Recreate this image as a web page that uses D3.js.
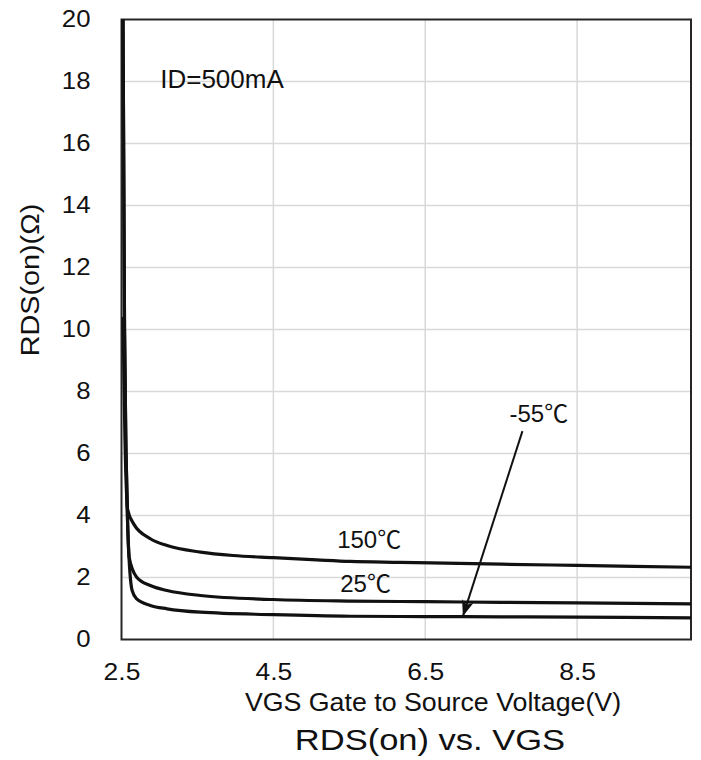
<!DOCTYPE html>
<html lang="en">
<head>
<meta charset="utf-8">
<title>RDS(on) vs. VGS</title>
<script src="https://d3js.org/d3.v7.min.js"></script>
<style>
	body, html { margin: 0; padding: 0; background: #fff; }
	text { font-family: "Liberation Sans", Arial, sans-serif; fill: #111; }
	.deg { font-family: "Noto Sans CJK SC", "Liberation Sans", sans-serif; }
</style>
</head>
<body>
<div id="chart"></div>
<script>
// curves (VGS in V, RDS(on) in ohm)
var vgs150 = [2.52, 2.545, 2.565, 2.58, 2.66, 2.88, 3.1, 3.54, 3.97, 4.5, 5.07, 5.51, 6.17, 7.5, 8.5, 10]
var rds150 = [10.4, 6.5, 4.8, 4.2, 3.73, 3.25, 3.03, 2.82, 2.71, 2.64, 2.57, 2.52, 2.49, 2.43, 2.39, 2.33]

var vgs25 = [2.52, 2.54, 2.56, 2.58, 2.6, 2.7, 2.88, 3.1, 3.54, 4.5, 5.51, 6.5, 7.5, 8.5, 10]
var rds25 = [20, 10, 6, 3.8, 2.66, 2.01, 1.74, 1.58, 1.42, 1.29, 1.24, 1.22, 1.2, 1.18, 1.15]

var vgs55 = [2.52, 2.54, 2.56, 2.58, 2.6, 2.64, 2.7, 2.88, 3.1, 3.54, 4.5, 5.51, 6.5, 7.5, 8.5, 10]
var rds55 = [20, 10, 6, 3.8, 2.6, 1.58, 1.31, 1.1, 0.99, 0.88, 0.8, 0.75, 0.74, 0.73, 0.72, 0.7]

var xTicks = [2.5, 4.5, 6.5, 8.5]
var yTicks = [0, 2, 4, 6, 8, 10, 12, 14, 16, 18, 20]

var curveLabels = [
	{num: "150", v: 5.34, r: 2.94},
	{num: "25", v: 5.38, r: 1.53},
	{num: "-55", v: 7.61, r: 7.01}
]
var arrow55 = {from: [7.78, 6.72], to: [7.0, 0.78]}

var W = 701, H = 760
var margin = {top: 19.5, right: 10, bottom: 120.5, left: 121.5}
var w = W - margin.left - margin.right
var h = H - margin.top - margin.bottom

var svg = d3.select("#chart").append("svg")
	.attr("width", W)
	.attr("height", H)

// text in the picture is wider than the font: stretch it along its run
var stretch = function (sel, k) {
	sel.each(function () {
		var len = this.getComputedTextLength()
		d3.select(this).attr("textLength", len * k).attr("lengthAdjust", "spacingAndGlyphs")
	})
}

var xScale = d3.scaleLinear().domain([2.5, 10]).range([0, w])
var yScale = d3.scaleLinear().domain([0, 20]).range([h, 0])

var g = svg.append("g")
	.attr("transform", "translate(" + margin.left + "," + margin.top + ")")

// grid
g.append("g").selectAll("line.hgrid")
	.data(yTicks.slice(1, -1))
	.enter().append("line")
	.attr("x1", 0).attr("x2", w)
	.attr("y1", d => yScale(d)).attr("y2", d => yScale(d))
	.attr("stroke", "#d9d9d9").attr("stroke-width", 1.5)

g.append("g").selectAll("line.vgrid")
	.data(xTicks.slice(1))
	.enter().append("line")
	.attr("y1", 0).attr("y2", h)
	.attr("x1", d => xScale(d)).attr("x2", d => xScale(d))
	.attr("stroke", "#d9d9d9").attr("stroke-width", 1.5)

// frame
g.append("rect")
	.attr("width", w).attr("height", h)
	.attr("fill", "none")
	.attr("stroke", "#262626").attr("stroke-width", 2)

// axes
var xAxis = g.append("g")
	.attr("transform", "translate(0," + h + ")")
	.call(d3.axisBottom(xScale).tickValues(xTicks).tickSize(0).tickPadding(24).tickFormat(d3.format(".1f")))
xAxis.select(".domain").remove()
xAxis.selectAll("text").attr("font-size", 23).attr("font-family", null).call(stretch, 1.15)

var yAxis = g.append("g")
	.call(d3.axisLeft(yScale).tickValues(yTicks).tickSize(0).tickPadding(31))
yAxis.select(".domain").remove()
yAxis.selectAll("text").attr("font-size", 23).attr("font-family", null).call(stretch, 1.12)

// curves
var line = d3.line()
	.x(d => xScale(d[0]))
	.y(d => yScale(d[1]))
	.curve(d3.curveMonotoneX)

var series = [
	d3.zip(vgs150, rds150),
	d3.zip(vgs25, rds25),
	d3.zip(vgs55, rds55)
]
series.forEach(s => {
	g.append("path")
		.attr("d", line(s))
		.attr("fill", "none")
		.attr("stroke", "#111")
		.attr("stroke-width", 3.2)
})

// curve labels
curveLabels.forEach(l => {
	var t = g.append("text")
		.attr("x", xScale(l.v))
		.attr("y", yScale(l.r))
		.attr("font-size", 24)
	t.append("tspan").text(l.num)
	t.append("tspan").attr("class", "deg").text("℃")
})

// arrow to the -55 curve
svg.append("defs").append("marker")
	.attr("id", "head")
	.attr("viewBox", "0 0 16 12")
	.attr("refX", 15).attr("refY", 6)
	.attr("markerWidth", 16).attr("markerHeight", 12)
	.attr("markerUnits", "userSpaceOnUse")
	.attr("orient", "auto")
	.append("path")
	.attr("d", "M0,0 L16,6 L0,12 L4,6 Z")
	.attr("fill", "#111")

g.append("line")
	.attr("x1", xScale(arrow55.from[0])).attr("y1", yScale(arrow55.from[1]))
	.attr("x2", xScale(arrow55.to[0])).attr("y2", yScale(arrow55.to[1]))
	.attr("stroke", "#111").attr("stroke-width", 2)
	.attr("marker-end", "url(#head)")

// condition label
g.append("text")
	.text("ID=500mA")
	.attr("x", xScale(3.01))
	.attr("y", yScale(17.8))
	.attr("font-size", 26)

// axis titles
svg.append("text")
	.text("RDS(on)(Ω)")
	.attr("text-anchor", "middle")
	.attr("font-size", 25)
	.attr("transform", "translate(39,280) rotate(-90)")
	.call(stretch, 1.15)

svg.append("text")
	.text("VGS Gate to Source Voltage(V)")
	.attr("text-anchor", "middle")
	.attr("x", 433)
	.attr("y", 711)
	.attr("font-size", 25)
	.call(stretch, 1.07)

svg.append("text")
	.text("RDS(on) vs. VGS")
	.attr("text-anchor", "middle")
	.attr("x", 430)
	.attr("y", 750)
	.attr("font-size", 30)
	.call(stretch, 1.15)
</script>
</body>
</html>
